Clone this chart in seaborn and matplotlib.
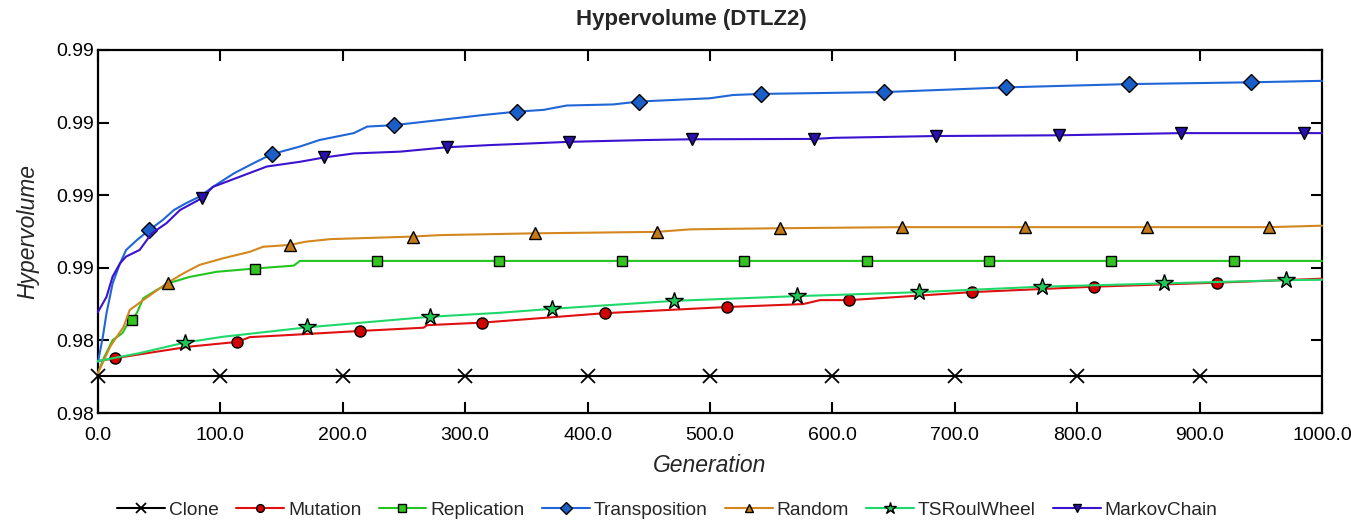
import numpy as np
import pandas as pd
import matplotlib
matplotlib.use("Agg")
import matplotlib.pyplot as plt
import seaborn as sns
from matplotlib.ticker import FormatStrFormatter

# ---------------- data ----------------
clone_gen = [0, 100, 200, 300, 400, 500, 600, 700, 800, 900, 1000]
clone_val = [0.98302] * 11

mutation_gen = [0, 14, 48, 75, 114, 124, 157, 214, 266, 269, 314, 414, 514, 576, 590, 614, 655, 714, 814, 914, 1000]
mutation_val = [0.98343, 0.98351, 0.98369, 0.98383, 0.98396, 0.98409, 0.98415, 0.98426, 0.98435, 0.98442,
                0.98449, 0.98475, 0.98492, 0.98500, 0.98511, 0.98511, 0.98520, 0.98533, 0.98548, 0.98559, 0.98570]

replication_gen = [0, 4, 12, 20, 25, 28, 32, 37, 48, 59, 75, 97, 128, 160, 165, 228, 328, 428, 528, 628, 728, 828, 928, 1000]
replication_val = [0.98310, 0.98346, 0.98401, 0.98420, 0.98450, 0.98456, 0.98477, 0.98516, 0.98539, 0.98559,
                   0.98575, 0.98589, 0.98598, 0.98606, 0.98619, 0.98619, 0.98619, 0.98619, 0.98619, 0.98619,
                   0.98619, 0.98619, 0.98619, 0.98619]

transposition_gen = [0, 4, 7, 12, 18, 23, 32, 42, 53, 62, 72, 83, 94, 111, 127, 142, 165, 181, 209, 220, 242,
                     279, 315, 342, 364, 383, 421, 442, 500, 519, 542, 642, 742, 842, 942, 1000]
transposition_val = [0.98340, 0.98410, 0.98475, 0.98557, 0.98612, 0.98649, 0.98677, 0.98704, 0.98732, 0.98759,
                     0.98778, 0.98796, 0.98823, 0.98860, 0.98888, 0.98913, 0.98934, 0.98952, 0.98971, 0.98989,
                     0.98993, 0.99007, 0.99021, 0.99030, 0.99035, 0.99047, 0.99050, 0.99058, 0.99067, 0.99076,
                     0.99079, 0.99084, 0.99097, 0.99106, 0.99111, 0.99115]

random_gen = [0, 10, 21, 26, 37, 57, 70, 83, 102, 124, 135, 157, 170, 190, 257, 279, 357, 457, 484, 557,
              657, 757, 857, 957, 1000]
random_val = [0.98310, 0.98383, 0.98438, 0.98484, 0.98511, 0.98559, 0.98585, 0.98608, 0.98626, 0.98644,
              0.98658, 0.98663, 0.98672, 0.98679, 0.98686, 0.98690, 0.98695, 0.98699, 0.98706, 0.98709,
              0.98712, 0.98712, 0.98712, 0.98712, 0.98716]

ts_gen = [0, 34, 62, 71, 102, 171, 271, 328, 371, 471, 571, 600, 671, 771, 871, 971, 1000]
ts_val = [0.98343, 0.98365, 0.98387, 0.98394, 0.98410, 0.98436, 0.98465, 0.98476, 0.98487, 0.98509,
          0.98522, 0.98525, 0.98533, 0.98548, 0.98557, 0.98566, 0.98567]

markov_gen = [0, 7, 12, 18, 23, 34, 44, 56, 67, 85, 94, 116, 138, 165, 185, 209, 247, 285, 320, 342, 385,
              448, 485, 585, 601, 685, 785, 885, 985, 1000]
markov_val = [0.98478, 0.98520, 0.98576, 0.98612, 0.98631, 0.98649, 0.98695, 0.98723, 0.98759, 0.98792,
              0.98823, 0.98851, 0.98879, 0.98892, 0.98904, 0.98915, 0.98920, 0.98932, 0.98938, 0.98941,
              0.98947, 0.98952, 0.98954, 0.98955, 0.98958, 0.98963, 0.98965, 0.98971, 0.98971, 0.98971]

x_ticks = [0, 100, 200, 300, 400, 500, 600, 700, 800, 900, 1000]
y_ticks = [0.982, 0.984, 0.986, 0.988, 0.990, 0.992]

# ---------------- styling ----------------
sns.set_style("ticks")
plt.rcParams['font.family'] = ['Liberation Sans', 'DejaVu Sans']

series = [
    ("Clone", clone_gen, clone_val, 0, dict(color="black", marker="x", mfc="black", mec="black", ms=10, mew=1.3)),
    ("Mutation", mutation_gen, mutation_val, 14, dict(color="#e01010", marker="o", mfc="#d00000", mec="black", ms=8, mew=1.0)),
    ("Replication", replication_gen, replication_val, 28, dict(color="#22c61e", marker="s", mfc="#33c41f", mec="black", ms=7.5, mew=1.0)),
    ("Transposition", transposition_gen, transposition_val, 42, dict(color="#1f66d6", marker="D", mfc="#1a5ec8", mec="black", ms=8.5, mew=1.0)),
    ("Random", random_gen, random_val, 57, dict(color="#d4871e", marker="^", mfc="#c27a17", mec="black", ms=8, mew=1.0)),
    ("TSRoulWheel", ts_gen, ts_val, 71, dict(color="#1fd86a", marker="*", mfc="#1ecc55", mec="black", ms=13, mew=1.0)),
    ("MarkovChain", markov_gen, markov_val, 85, dict(color="#3a12d0", marker="v", mfc="#2a10b0", mec="black", ms=9, mew=1.0)),
]

fig = plt.figure(figsize=(13.51, 5.25), dpi=100)
ax = fig.add_axes([0.0725, 0.2133, 0.906, 0.6915])

for name, g, v, start, st in series:
    df = pd.DataFrame({"Generation": g, "Hypervolume": v})
    idx = [i for i, gg in enumerate(g) if gg >= start and (gg - start) % 100 == 0 and gg < 1000]
    sns.lineplot(data=df, x="Generation", y="Hypervolume", ax=ax, label=name,
                 color=st["color"], linewidth=1.5, marker=st["marker"], markevery=idx,
                 markersize=st["ms"], markerfacecolor=st["mfc"], markeredgecolor=st["mec"],
                 markeredgewidth=st["mew"], clip_on=False, zorder=3)

ax.set_xlim(0, 1000)
ax.set_ylim(0.982, 0.992)
ax.set_xticks(x_ticks)
ax.set_yticks(y_ticks)
ax.xaxis.set_major_formatter(FormatStrFormatter("%.1f"))
ax.yaxis.set_major_formatter(FormatStrFormatter("%.2f"))
ax.tick_params(direction="in", length=8, width=1.5, top=True, right=True, labelsize=14, colors="black")
ax.tick_params(axis="x", pad=10)
ax.tick_params(axis="y", pad=3)
for s in ax.spines.values():
    s.set_linewidth(1.6)
    s.set_color("black")

fig.text(0.512, 0.962, "Hypervolume (DTLZ2)", fontsize=16, fontweight="bold", ha="center", va="center")
ax.set_xlabel("Generation", fontsize=16.5, fontstyle="italic", labelpad=7)
ax.set_ylabel("Hypervolume", fontsize=16.5, fontstyle="italic", labelpad=12)

handles, labels = ax.get_legend_handles_labels()
ax.get_legend().remove()
fig.legend(handles, labels, loc="center", bbox_to_anchor=(0.494, 0.0286), ncol=7, frameon=False,
           fontsize=13.8, handlelength=2.5, columnspacing=0.9, handletextpad=0.2, markerscale=0.7)

fig.savefig("out.png", dpi=100)
